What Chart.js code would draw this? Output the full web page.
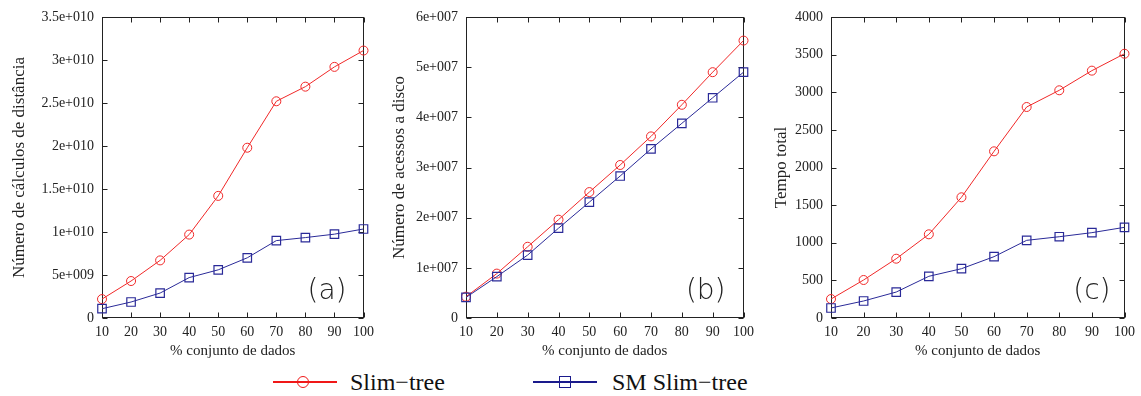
<!DOCTYPE html>
<html>
<head>
<meta charset="utf-8">
<script src="https://cdn.jsdelivr.net/npm/chart.js@4.4.0/dist/chart.umd.min.js"></script>
<style>
  body { margin: 0; background: #fff; width: 1141px; height: 396px; overflow: hidden; position: relative; font-family: "Liberation Serif", serif; }
  canvas { position: absolute; top: 0; }
  .leg-line { position: absolute; height: 1.5px; }
  .leg-mark { position: absolute; box-sizing: border-box; background: transparent; }
  .leg-text { position: absolute; font-size: 24px; line-height: 24px; color: #111; white-space: nowrap; }
</style>
</head>
<body>
<canvas id="chartA" width="380" height="362" style="left:0px"></canvas>
<canvas id="chartB" width="380" height="362" style="left:380px"></canvas>
<canvas id="chartC" width="381" height="362" style="left:760px"></canvas>

<div class="leg-line" style="left:273px;top:381px;width:64px;background:#f01818"></div>
<div class="leg-mark" style="left:297px;top:376px;width:12px;height:12px;border:1.5px solid #f01818;border-radius:50%"></div>
<div class="leg-text" style="left:350px;top:370px">Slim−tree</div>
<div class="leg-line" style="left:533px;top:381px;width:64px;background:#1a1a8c"></div>
<div class="leg-mark" style="left:559px;top:376px;width:12px;height:12px;border:1.5px solid #1a1a8c"></div>
<div class="leg-text" style="left:612px;top:370px">SM Slim−tree</div>

<script>
const pct = [10, 20, 30, 40, 50, 60, 70, 80, 90, 100]

// (a) número de cálculos de distância
const slimCalc = [2.2e9, 4.3e9, 6.7e9, 9.7e9, 1.42e10, 1.98e10, 2.52e10, 2.69e10, 2.92e10, 3.11e10]
const smCalc = [1.08e9, 1.86e9, 2.9e9, 4.7e9, 5.6e9, 7.0e9, 9.0e9, 9.35e9, 9.75e9, 1.035e10]
const ticksCalc = [0, 5e9, 1e10, 1.5e10, 2e10, 2.5e10, 3e10, 3.5e10]
const labelsCalc = ['0', '5e+009', '1e+010', '1.5e+010', '2e+010', '2.5e+010', '3e+010', '3.5e+010']

// (b) número de acessos a disco
const slimDisk = [4.25e6, 8.85e6, 1.42e7, 1.96e7, 2.51e7, 3.05e7, 3.62e7, 4.25e7, 4.9e7, 5.53e7]
const smDisk = [4.1e6, 8.25e6, 1.255e7, 1.79e7, 2.31e7, 2.83e7, 3.37e7, 3.88e7, 4.39e7, 4.9e7]
const ticksDisk = [0, 1e7, 2e7, 3e7, 4e7, 5e7, 6e7]
const labelsDisk = ['0', '1e+007', '2e+007', '3e+007', '4e+007', '5e+007', '6e+007']

// (c) tempo total
const slimTime = [252, 505, 788, 1112, 1604, 2215, 2804, 3026, 3287, 3512]
const smTime = [133, 226, 345, 554, 655, 815, 1032, 1080, 1134, 1205]
const ticksTime = [0, 500, 1000, 1500, 2000, 2500, 3000, 3500, 4000]
const labelsTime = ['0', '500', '1000', '1500', '2000', '2500', '3000', '3500', '4000']

const seriesNames = ['Slim−tree', 'SM Slim−tree']
const xTitle = '% conjunto de dados'

const RED = '#f02828'
const BLUE = '#2a2a98'
const INK = '#222'
const SERIF = '"Liberation Serif", "Times New Roman", serif'

// gnuplot-like box with inward ticks on all four sides
const framePlugin = {
  id: 'frame',
  beforeDatasetsDraw(chart) {
    const { ctx, chartArea: a, scales: { x, y } } = chart
    const L = Math.round(a.left) + 0.5
    const R = Math.round(a.right) - 0.5
    const T = Math.round(a.top) + 0.5
    const B = Math.round(a.bottom) - 0.5
    const tl = 5
    ctx.save()
    ctx.strokeStyle = INK
    ctx.lineWidth = 1
    ctx.strokeRect(L, T, R - L, B - T)
    ctx.beginPath()
    x.ticks.forEach((t, i) => {
      const px = Math.round(x.getPixelForTick(i)) + 0.5
      ctx.moveTo(px, B); ctx.lineTo(px, B - tl)
      ctx.moveTo(px, T); ctx.lineTo(px, T + tl)
    })
    y.ticks.forEach(t => {
      const py = Math.round(y.getPixelForValue(t.value)) + 0.5
      ctx.moveTo(L, py); ctx.lineTo(L + tl, py)
      ctx.moveTo(R, py); ctx.lineTo(R - tl, py)
    })
    ctx.stroke()
    ctx.restore()
  },
  afterDraw(chart, args, opts) {
    const { ctx, chartArea: a } = chart
    ctx.save()
    ctx.fillStyle = INK
    ctx.font = '300 28px "DejaVu Sans", sans-serif'
    ctx.textAlign = 'right'
    ctx.textBaseline = 'bottom'
    ctx.fillText(opts.tag, a.right - opts.dx, a.bottom - 12)
    ctx.restore()
  }
}

const makeChart = (id, cfg) => {
  const ctx = document.getElementById(id).getContext('2d')
  return new Chart(ctx, {
    type: 'line',
    data: {
      labels: pct.map(String),
      datasets: [
        {
          label: seriesNames[0],
          data: cfg.red,
          borderColor: RED,
          borderWidth: 1,
          pointStyle: 'circle',
          pointRadius: 4.5,
          pointBorderWidth: 1,
          pointBorderColor: RED,
          pointBackgroundColor: 'rgba(0,0,0,0)',
          order: 2,
        },
        {
          label: seriesNames[1],
          data: cfg.blue,
          borderColor: BLUE,
          borderWidth: 1,
          pointStyle: 'rect',
          pointRadius: 6,
          pointBorderWidth: 1.2,
          pointBorderColor: BLUE,
          pointBackgroundColor: 'rgba(0,0,0,0)',
          order: 1,
        },
      ]
    },
    options: {
      responsive: false,
      animation: false,
      devicePixelRatio: 1,
      layout: { padding: { left: 0, top: 17, right: cfg.padRight, bottom: 0 } },
      scales: {
        x: {
          grid: { display: false, drawTicks: false },
          border: { display: false },
          ticks: { color: INK, font: { family: SERIF, size: 14 }, padding: 6, maxRotation: 0, autoSkip: false },
          title: { display: true, text: xTitle, color: INK, font: { family: SERIF, size: 15, lineHeight: 1.2 }, padding: { top: 0, bottom: 2 } },
          afterFit: (scale) => { scale.height = 44 },
        },
        y: {
          min: 0,
          max: cfg.ticks[cfg.ticks.length - 1],
          grid: { display: false, drawTicks: false },
          border: { display: false },
          afterBuildTicks: (scale) => { scale.ticks = cfg.ticks.map(v => ({ value: v })) },
          ticks: {
            color: INK,
            font: { family: SERIF, size: 14 },
            padding: 8,
            callback: (v, i) => cfg.labels[i],
          },
          title: { display: true, text: cfg.yTitle, color: INK, font: { family: SERIF, size: 17, lineHeight: 1.2 }, padding: { top: cfg.titlePad, bottom: 0 } },
          afterFit: (scale) => { scale.width = cfg.yWidth },
        }
      },
      plugins: {
        legend: { display: false },
        tooltip: { enabled: false },
        frame: { tag: cfg.tag, dx: cfg.tagDx },
      }
    },
    plugins: [framePlugin]
  })
}

makeChart('chartA', {
  red: slimCalc, blue: smCalc, ticks: ticksCalc, labels: labelsCalc,
  yTitle: 'Número de cálculos de distância', yWidth: 102, padRight: 14, titlePad: 9,
  tag: '(a)', tagDx: 17,
})
makeChart('chartB', {
  red: slimDisk, blue: smDisk, ticks: ticksDisk, labels: labelsDisk,
  yTitle: 'Número de acessos a disco', yWidth: 86, padRight: 13, titlePad: 9,
  tag: '(b)', tagDx: 18,
})
makeChart('chartC', {
  red: slimTime, blue: smTime, ticks: ticksTime, labels: labelsTime,
  yTitle: 'Tempo total', yWidth: 71, padRight: 13, titlePad: 11,
  tag: '(c)', tagDx: 14,
})
</script>
</body>
</html>
